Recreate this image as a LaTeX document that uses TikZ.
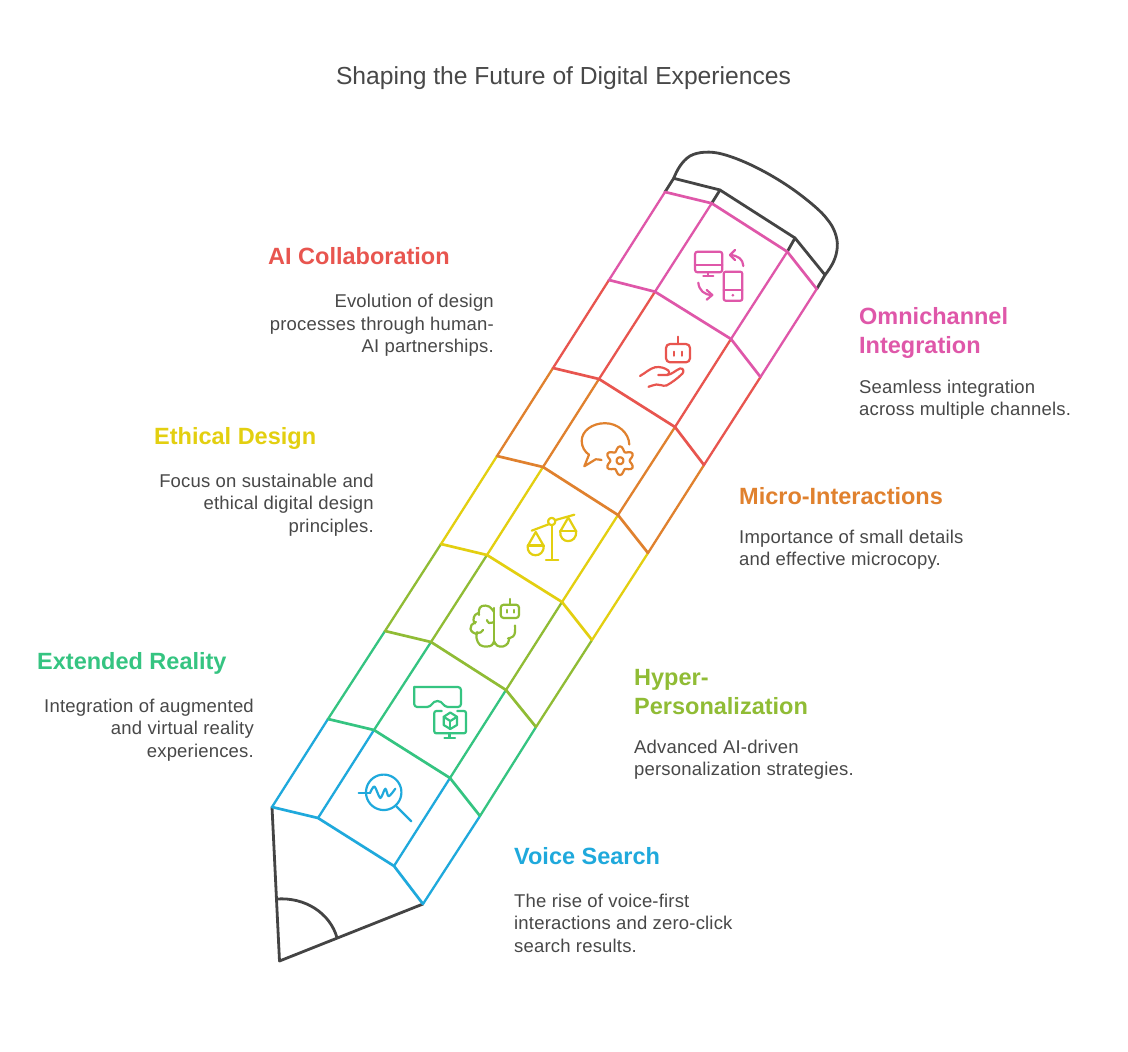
\documentclass[tikz,border=0pt]{standalone}
\usepackage{fontspec}
\setmainfont{Liberation Sans}
\newfontfamily\descfont[LetterSpace=1.0]{Liberation Sans}
\definecolor{cpink}{HTML}{DF57A9}
\definecolor{cred}{HTML}{E8554F}
\definecolor{corange}{HTML}{E0812E}
\definecolor{cyellow}{HTML}{E3CF10}
\definecolor{colive}{HTML}{90BC35}
\definecolor{cgreen}{HTML}{35C481}
\definecolor{cblue}{HTML}{1FA9DC}
\definecolor{cdark}{HTML}{444444}
\definecolor{ctext}{HTML}{484848}
\tikzset{
  longline/.style={line width=2.3pt,line cap=round},
  boundary/.style={line width=2.7pt,line join=round,line cap=round},
  darkline/.style={line width=2.8pt,color=cdark,line join=round,line cap=round},
  icon/.style={line width=2.2pt,line join=round,line cap=round},
  head/.style={inner sep=0pt,font=\fontsize{23.5}{29.7}\selectfont\bfseries,align=left,anchor=west},
  descl/.style={inner sep=0pt,font=\descfont\fontsize{18.5}{22.4}\selectfont,text=ctext,align=left,anchor=west},
  descr/.style={inner sep=0pt,font=\descfont\fontsize{18.5}{22.4}\selectfont,text=ctext,align=right,anchor=east},
}
\begin{document}
\begin{tikzpicture}[x=1pt,y=-1pt]
\useasboundingbox (0,0) rectangle (1128,1052);
\fill[white] (0,0) rectangle (1128,1052);
% body points
\coordinate (a0) at (665,192); \coordinate (a1) at (609,280); \coordinate (a2) at (553,368); \coordinate (a3) at (497,456);
\coordinate (a4) at (441,544); \coordinate (a5) at (385,631); \coordinate (a6) at (328,719); \coordinate (a7) at (272,807);
\coordinate (b0) at (711.7,203.3); \coordinate (b1) at (655,291.7); \coordinate (b2) at (599,379); \coordinate (b3) at (543,467);
\coordinate (b4) at (487,555); \coordinate (b5) at (431,642); \coordinate (b6) at (374,730); \coordinate (b7) at (318,818);
\coordinate (c0) at (787.3,251.7); \coordinate (c1) at (731,339); \coordinate (c2) at (675,427); \coordinate (c3) at (618,515);
\coordinate (c4) at (562,602); \coordinate (c5) at (506,690); \coordinate (c6) at (450,778); \coordinate (c7) at (394,866);
\coordinate (d0) at (816.7,289); \coordinate (d1) at (760.5,377); \coordinate (d2) at (704,465); \coordinate (d3) at (648,553);
\coordinate (d4) at (592,640); \coordinate (d5) at (536,727); \coordinate (d6) at (480,816); \coordinate (d7) at (423,904);
\coordinate (tip) at (279.5,961);
\coordinate (e0) at (673.7,178.3); \coordinate (e1) at (720,190); \coordinate (e2) at (795,238); \coordinate (e3) at (825,275);
\coordinate (arcA) at (276.7,899); \coordinate (arcB) at (337,937.7);
% cap and tip
\draw[darkline] (a0) -- (e0) -- (e1) -- (e2) -- (e3) -- (d0);
\draw[darkline] (b0) -- (e1); \draw[darkline] (c0) -- (e2);
\draw[darkline] (e0) .. controls (677,170) and (682,161) .. (690,156)
  .. controls (698,151.5) and (711,151) .. (722,154)
  .. controls (745,160) and (775,176) .. (798,193)
  .. controls (810,202) and (822,212) .. (827,219)
  .. controls (834,227) and (838,238) .. (837.3,247)
  .. controls (836.5,258) and (832,266) .. (e3);
\draw[darkline] (a7) -- (tip) -- (d7);
\draw[darkline] (arcA) .. controls (305,897) and (330,913) .. (arcB);
% long lines
\foreach \i/\j/\c in {0/1/cpink,1/2/cred,2/3/corange,3/4/cyellow,4/5/colive,5/6/cgreen,6/7/cblue}{
  \draw[longline,\c] (a\i) -- (a\j);
  \draw[longline,\c] (b\i) -- (b\j);
  \draw[longline,\c] (c\i) -- (c\j);
  \draw[longline,\c] (d\i) -- (d\j);
}
% cross boundaries
\foreach \i/\c in {0/cpink,1/cpink,2/cred,3/corange,4/cyellow,5/colive,6/cgreen,7/cblue}{
  \draw[boundary,\c] (a\i) -- (b\i) -- (c\i) -- (d\i);
}
% icon 1: devices
\begin{scope}[icon,cpink]
\draw[rounded corners=2.5pt] (695,251.7) rectangle (722.3,272.3);
\draw (695,265) -- (722.3,265);
\draw (708.3,272.3) -- (708.3,276); \draw (703.3,276.3) -- (713.3,276.3);
\draw[rounded corners=2pt] (723.7,271.7) rectangle (742.3,300.7);
\draw (723.7,290) -- (742.3,290);
\fill (732.9,295.2) circle[radius=1.5pt];
\draw (743.3,266) .. controls (743,259) and (738,255.5) .. (730,255);
\draw (735,250) -- (730,255) -- (735,260);
\draw (698.3,282.7) .. controls (699,290) and (704,295) .. (712,295);
\draw (706.7,290) -- (712.3,295) -- (706.7,299.7);
\end{scope}
% icon 2: robot hand
\begin{scope}[icon,cred]
\draw[rounded corners=4pt] (666,344) rectangle (690,362.3);
\draw (677.7,336.7) -- (677.7,344);
\draw (674,351.7) -- (674,355.7); \draw (681.7,351.7) -- (681.7,355.7);
\draw (640,376) .. controls (646,372.5) and (650,368.5) .. (655,367.3)
  .. controls (660,366.3) and (665,368) .. (668.3,370.5)
  .. controls (670,373) and (669,375) .. (667,375) -- (658.3,375);
\draw (667,375) .. controls (672,374.5) and (676,370) .. (680,368.5)
  .. controls (683,368) and (684.5,371) .. (682.5,373.5)
  .. controls (678,378) and (672,382.5) .. (666.5,385.5)
  .. controls (662,386.5) and (660,384) .. (656.5,384.5)
  .. controls (653,385) and (651,386) .. (648.5,386.8);
\end{scope}
% icon 3: bubble + gear
\begin{scope}[icon,corange]
\draw (629.3,444.5) .. controls (629,433) and (618,423.2) .. (605,423.2)
  .. controls (592,423.2) and (581.7,431) .. (581.7,441)
  .. controls (581.7,447) and (585,452) .. (589,454.7)
  -- (584.3,466.3) -- (595.7,459.3)
  .. controls (597.5,459.2) and (599.5,459.6) .. (601.5,460);
\draw plot[smooth,samples=49,domain=0:360] ({620+(12-2.4*cos(6*\x))*cos(\x)},{460.7+(12-2.4*cos(6*\x))*sin(\x)});
\draw plot[smooth,samples=25,domain=0:360] ({620+3.4*cos(\x)},{460.7+3.4*sin(\x)});
\end{scope}
% icon 4: scales
\begin{scope}[icon,cyellow]
\draw (531.7,530.7) -- (548.3,524.4); \draw (555,520.2) -- (574.3,514.7);
\draw plot[smooth,samples=25,domain=0:360] ({551.7+3.5*cos(\x)},{521.5+3.5*sin(\x)});
\draw (551.7,525) -- (551.7,559.7); \draw (546,559.7) -- (558.3,559.7);
\draw (528,545.5) -- (535.7,532) -- (543.5,545.5);
\draw (528,545.5) -- (543.5,545.5);
\draw (527.6,545.5) .. controls (526.5,558.5) and (544.5,558.5) .. (543.8,545.5);
\draw (560.5,531) -- (568.3,517.5) -- (576,531);
\draw (560.2,531) -- (576.2,531);
\draw (560.2,531) .. controls (559,544.5) and (577.3,544.5) .. (576.2,531);
\end{scope}
% icon 5: brain + robot
\begin{scope}[icon,colive]
\draw (494,608) -- (494,644);
\draw plot[smooth,tension=0.7] coordinates {(494,612) (489,606.5) (482,606) (479,610) (479,615)};
\draw plot[smooth,tension=0.7] coordinates {(479,613) (475,615) (473.5,620) (475,623.5)};
\draw plot[smooth,tension=0.7] coordinates {(476,622) (471.5,625) (470.5,629) (473,632.5) (477,634)};
\draw plot[smooth,tension=0.7] coordinates {(477,632) (476.5,638) (480,645) (487,646.5) (492,645) (494,641)};
\draw plot[smooth,tension=0.7] coordinates {(494,641) (497,645.5) (503,646.5) (508,643) (509,638)};
\draw plot[smooth,tension=0.7] coordinates {(508,638.5) (513,636.5) (515,632) (515,625.5)};
\draw plot[smooth,tension=0.7] coordinates {(494,622) (489,623) (487,620)};
\draw (477,633) .. controls (480,633.5) and (482,632) .. (483,630);
\draw[rounded corners=3pt] (500.7,604.7) rectangle (519,618);
\draw (510,599) -- (510,604.7);
\draw (506.7,610) -- (506.7,612.5); \draw (514,610) -- (514,612.5);
\end{scope}
% icon 6: XR
\begin{scope}[icon,cgreen]
\draw[rounded corners=3pt] (414.2,687) -- (461,687) -- (461,707) -- (448,707);
\draw (448,707) .. controls (443,707) and (443,701) .. (437.5,701) .. controls (432,701) and (432,707) .. (427,707);
\draw[rounded corners=3pt] (427,707) -- (414.2,707) -- (414.2,687);
\draw[rounded corners=2pt] (441.7,711) -- (434.3,711) -- (434.3,733.3) -- (466,733.3) -- (466,711) -- (457.3,711);
\draw (449.5,733.3) -- (449.5,737.5); \draw (444.5,737.7) -- (455,737.7);
\draw (450.3,712.5) -- (457,716.8) -- (457,725) -- (450.3,729) -- (443.7,725) -- (443.7,716.8) -- cycle;
\draw (443.7,716.8) -- (450.3,721) -- (457,716.8); \draw (450.3,721) -- (450.3,729);
\end{scope}
% icon 7: magnifier
\begin{scope}[icon,cblue]
\draw plot[smooth,samples=60,domain=-207:152] ({383.7+17.7*cos(\x)},{792.3-17.7*sin(\x)});
\draw plot[smooth,tension=0.5] coordinates {(370,793) (374.5,786.5) (380.3,798) (385.3,788.7) (388.7,796.3) (395.3,788.7)};
\draw (358.7,793) -- (370,793);
\draw (396.3,806.3) -- (411.3,821.3);
\end{scope}
% texts
\node[inner sep=0pt,font=\fontsize{24.65}{30}\selectfont,text=ctext] (title) at (563.5,78.5) {Shaping the Future of Digital Experiences};

\node[head,text=cred] (h1) at (268,256) {AI Collaboration};
\node[descr] (d1) at (494,325.5) {Evolution of design\\processes through human-\\AI partnerships.};

\node[head,text=cpink] (h2) at (859,333) {Omnichannel\\Integration};
\node[descl] (d2) at (859,400) {Seamless integration\\across multiple channels.};

\node[head,text=corange] (h3) at (739,496) {Micro-Interactions};
\node[descl] (d3) at (739,550) {Importance of small details\\and effective microcopy.};

\node[head,text=cyellow] (h4) at (154,438) {Ethical Design};
\node[descr] (d4) at (374,505) {Focus on sustainable and\\ethical digital design\\principles.};

\node[head,text=colive] (h5) at (634,692) {Hyper-\\Personalization};
\node[descl] (d5) at (634,760) {Advanced AI-driven\\personalization strategies.};

\node[head,text=cgreen] (h6) at (37,663) {Extended Reality};
\node[descr] (d6) at (254,730) {Integration of augmented\\and virtual reality\\experiences.};

\node[head,text=cblue] (h7) at (514,856) {Voice Search};
\node[descl] (d7) at (514,923) {The rise of voice-first\\interactions and zero-click\\search results.};
\end{tikzpicture}
\end{document}
